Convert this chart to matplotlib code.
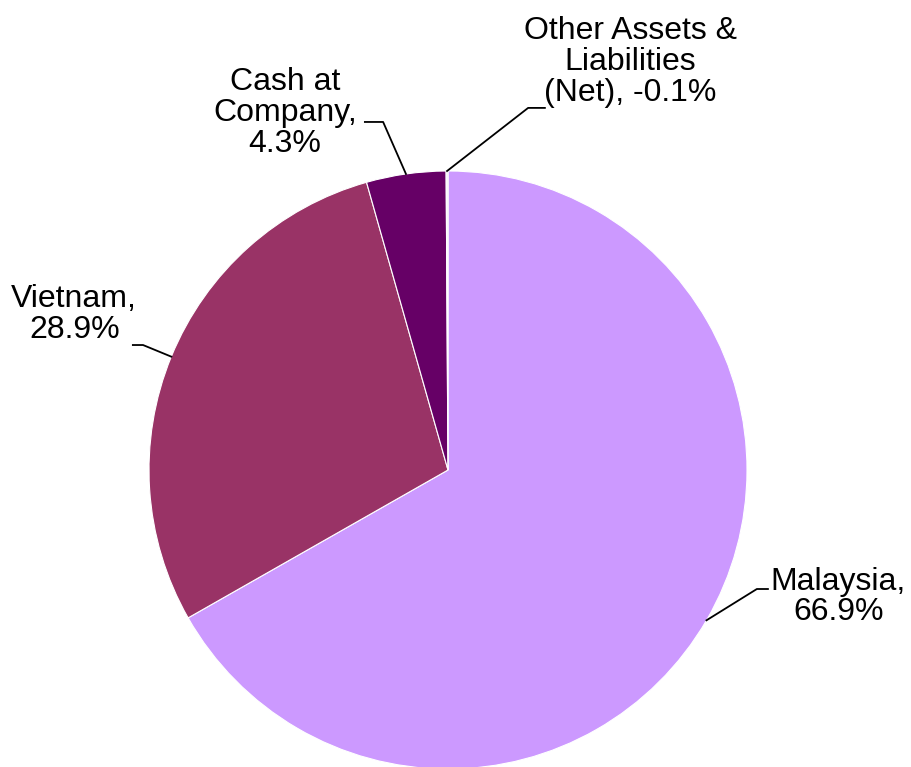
import numpy as np
import matplotlib.pyplot as plt

plt.rcParams['font.family'] = ['Liberation Sans', 'DejaVu Sans']

# Datos
labels = ['Malaysia', 'Vietnam', 'Cash at\nCompany', 'Other Assets &\nLiabilities\n(Net)']
values = [66.9, 28.9, 4.3, -0.1]
colors = ['#CC99FF', '#993366', '#660066', '#F2EEF8']

# Posiciones de texto y codos de las líneas guía (unidades del radio)
text_pos = [(1.305, -0.425), (-1.25, 0.52), (-0.545, 1.194), (0.609, 1.365)]
elbow = [(1.033, -0.398), (-1.02, 0.418), (-0.217, 1.164), (0.268, 1.211)]
elbow_end = [(1.07, -0.398), (-1.054, 0.418), (-0.278, 1.164), (0.324, 1.211)]

fig = plt.figure(figsize=(9.12, 7.67), dpi=100)
ax = fig.add_axes([0, 0, 1, 1])

wedges, _ = ax.pie(np.abs(values), colors=colors, startangle=90, counterclock=False,
                   radius=1, wedgeprops=dict(edgecolor='white', linewidth=0.8))

for w, lab, v, tp, e, ee in zip(wedges, labels, values, text_pos, elbow, elbow_end):
    ang = np.deg2rad((w.theta1 + w.theta2) / 2)
    x0, y0 = np.cos(ang), np.sin(ang)
    ax.plot([x0, e[0], ee[0]], [y0, e[1], ee[1]], color='black', lw=1.3)
    ax.text(tp[0], tp[1], f'{lab}, {v:.1f}%' if lab.startswith('Other') else f'{lab},\n{v:.1f}%',
            ha='center', va='center', fontsize=23, linespacing=1.03, color='black')

ax.set_xlim(-448 / 299, (912 - 448) / 299)
ax.set_ylim(-(767 - 470) / 299, 470 / 299)
ax.set_aspect('equal')
ax.axis('off')

fig.savefig('out.png', dpi=100)
